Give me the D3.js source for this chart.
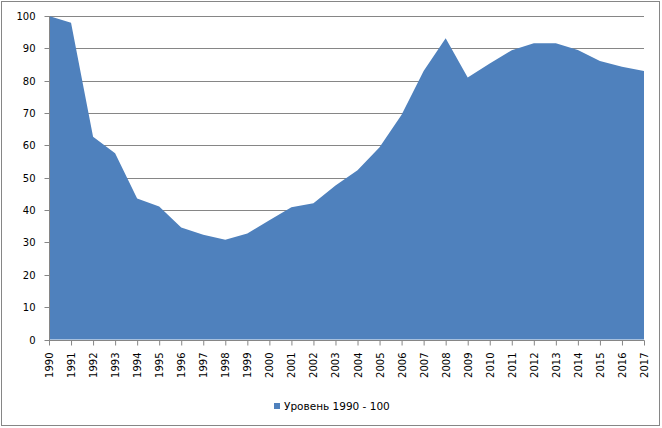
<!DOCTYPE html>
<html><head><meta charset="utf-8">
<script src="https://cdn.jsdelivr.net/npm/d3@7"></script>
<style>body{margin:0;background:#fff}svg{display:block}</style>
</head><body>
<script>
const years = [1990,1991,1992,1993,1994,1995,1996,1997,1998,1999,2000,2001,2002,2003,2004,2005,2006,2007,2008,2009,2010,2011,2012,2013,2014,2015,2016,2017];
const values = [100,97.9,62.7,57.6,43.6,41.1,34.6,32.4,30.8,32.8,36.9,40.9,42.1,47.6,52.3,59.4,69.5,83.0,93.1,81.0,85.3,89.4,91.6,91.6,89.5,86.1,84.3,83.0];
const yTicks = [0,10,20,30,40,50,60,70,80,90,100];
const seriesName = "Уровень 1990 - 100";

const W = 662, H = 428;
const svg = d3.select("body").append("svg").attr("width", W).attr("height", H);
const font = "DejaVu Sans, Verdana, sans-serif";

svg.append("rect").attr("x",1.5).attr("y",1.5).attr("width",658).attr("height",424)
  .attr("fill","#fff").attr("stroke","#868686").attr("stroke-width",1);

const x = d3.scalePoint().domain(years).range([49, 644]);
const y = d3.scaleLinear().domain([0,100]).range([339.5, 16]);

// gridlines
svg.append("g").selectAll("line").data(yTicks.filter(d=>d>0)).join("line")
  .attr("x1",49).attr("x2",644)
  .attr("y1",d=>Math.round(y(d))+0.5).attr("y2",d=>Math.round(y(d))+0.5)
  .attr("stroke","#868686").attr("stroke-width",1);

// area
const area = d3.area().x((d,i)=>x(years[i])).y0(y(0)).y1(d=>y(d));
svg.append("path").datum(values).attr("d",area).attr("fill","#4F81BD");

// y axis
const yAxis = svg.append("g").attr("transform","translate(49.5,0)")
  .call(d3.axisLeft(y).tickValues(yTicks).tickSize(5).tickPadding(9).tickFormat(d3.format("d")));
yAxis.select(".domain").attr("stroke","#868686").attr("d","M0,16V"+(Math.round(y(0))+0.5));
yAxis.selectAll(".tick line").attr("stroke","#868686");
yAxis.selectAll(".tick").attr("transform",d=>"translate(0,"+(Math.round(y(d))+0.5)+")");
yAxis.selectAll("text").attr("font-family",font).attr("font-size",10).attr("fill","#000");

// x axis
const xAxis = svg.append("g").attr("transform","translate(0,"+(Math.round(y(0))+0.5)+")")
  .call(d3.axisBottom(x).tickSize(5).tickPadding(0));
xAxis.select(".domain").attr("stroke","#868686").attr("d","M49,0H644.5");
xAxis.selectAll(".tick line").attr("stroke","#868686");
xAxis.selectAll("text").attr("font-family",font).attr("font-size",10).attr("fill","#000")
  .attr("transform","rotate(-90)").attr("text-anchor","end").attr("x",-12).attr("y",0).attr("dy","0.35em");

// legend
const lg = svg.append("g");
lg.append("rect").attr("x",274).attr("y",403).attr("width",6).attr("height",6).attr("fill","#4F81BD");
lg.append("text").attr("x",284).attr("y",410).text(seriesName)
  .attr("font-family",font).attr("font-size",10.5).attr("fill","#000");
</script>
</body></html>
